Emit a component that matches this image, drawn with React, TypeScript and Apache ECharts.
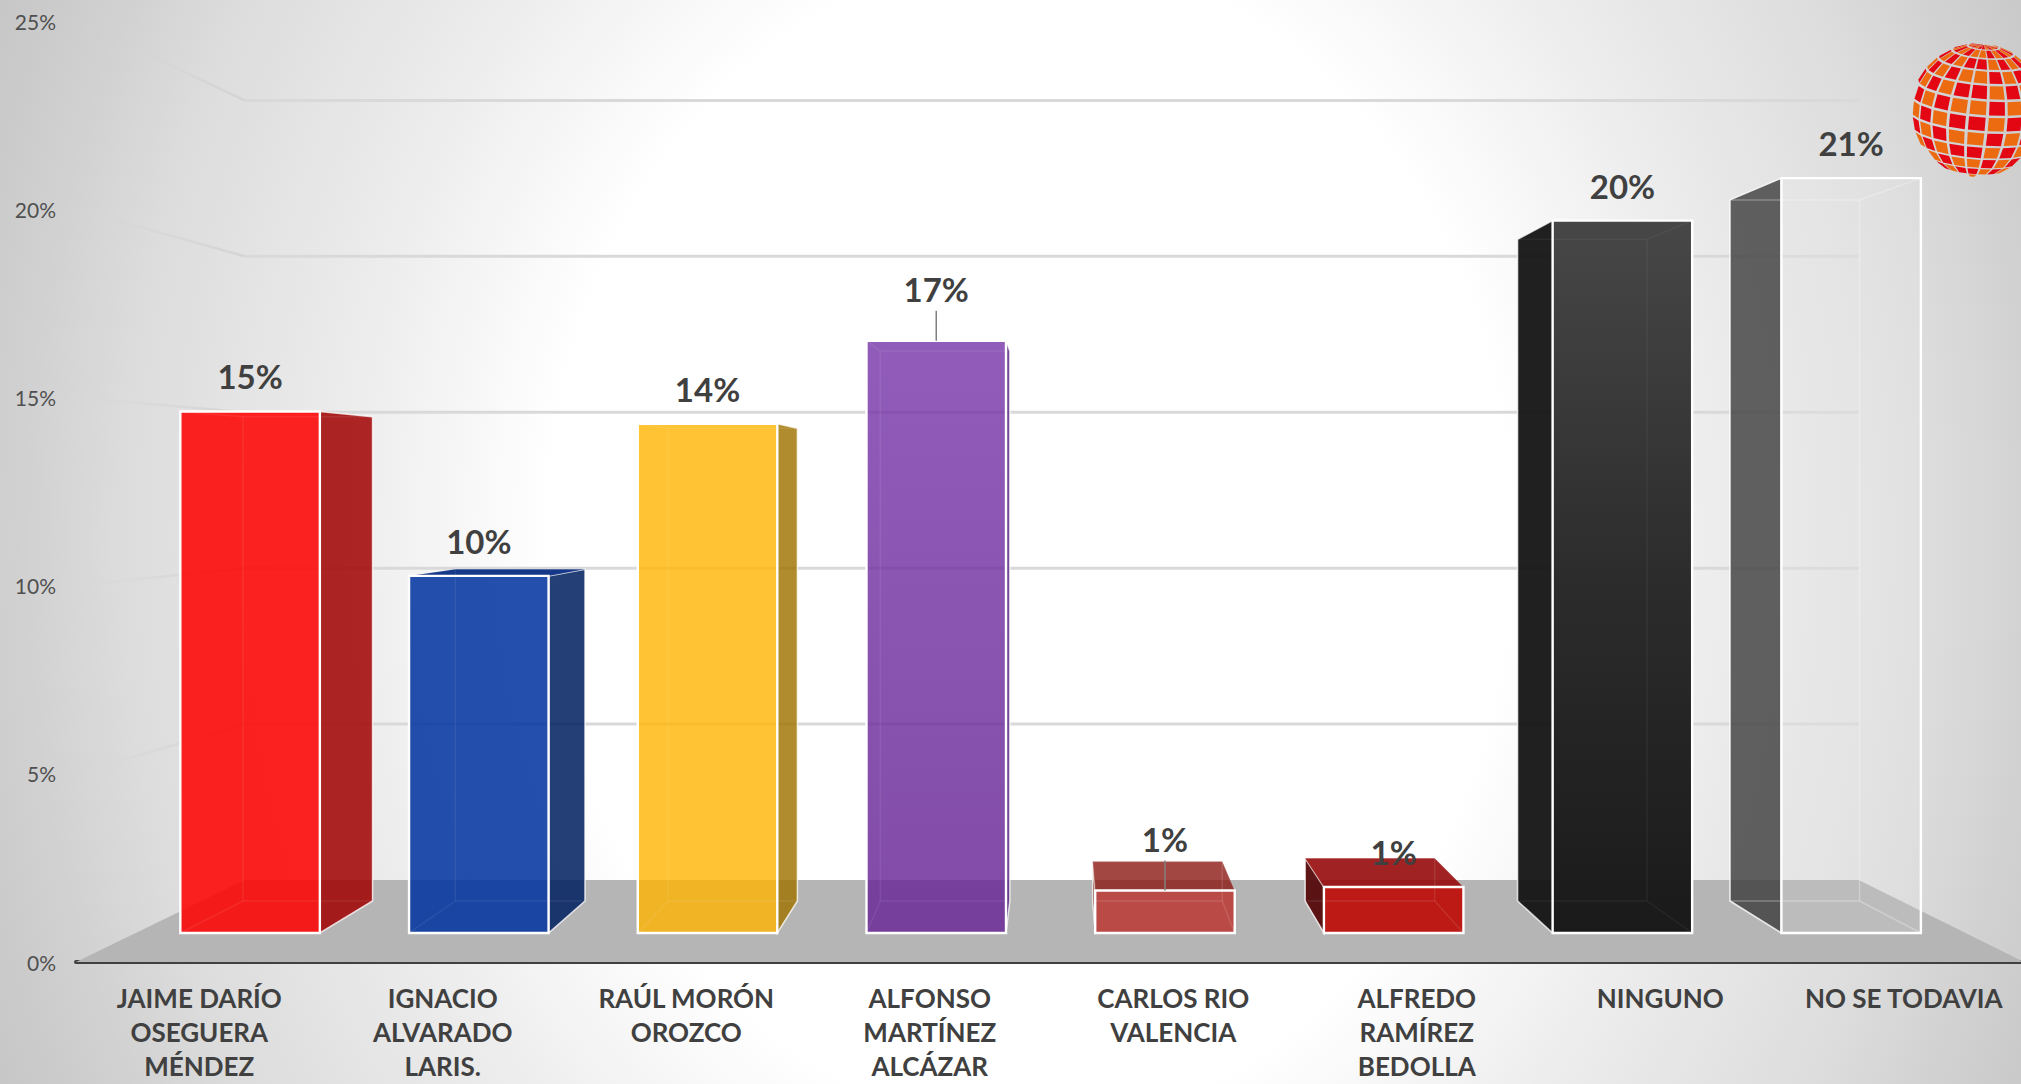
import React, { useEffect, useRef } from "react";
import * as echarts from "echarts";

const categories = [
  "JAIME DARÍO\nOSEGUERA\nMÉNDEZ",
  "IGNACIO\nALVARADO\nLARIS.",
  "RAÚL MORÓN\nOROZCO",
  "ALFONSO\nMARTÍNEZ\nALCÁZAR",
  "CARLOS RIO\nVALENCIA",
  "ALFREDO\nRAMÍREZ\nBEDOLLA",
  "NINGUNO",
  "NO SE TODAVIA",
];
const values = [14.75, 10.1, 14.4, 16.75, 1.2, 1.3, 20.15, 21.35];
const gridTicks = [5, 10, 15, 20, 25];
const leaderBars = [3, 4];

const frontFills: any[] = [
  "rgba(255,0,0,0.86)",
  "rgba(0,50,160,0.86)",
  "rgba(255,180,0,0.8)",
  {
    type: "linear", x: 0, y: 0, x2: 0, y2: 1,
    colorStops: [
      { offset: 0, color: "rgba(118,52,168,0.8)" },
      { offset: 1, color: "rgba(105,40,150,0.84)" },
    ],
  },
  "rgba(187,55,50,0.85)",
  "rgba(190,12,8,0.92)",
  {
    type: "linear", x: 0, y: 0, x2: 0, y2: 1,
    colorStops: [
      { offset: 0, color: "#474747" },
      { offset: 0.5, color: "#2c2c2c" },
      { offset: 1, color: "#1a1a1a" },
    ],
  },
  "rgba(255,255,255,0.1)",
];
const sideFills = [
  "rgba(160,0,0,0.85)",
  "rgba(0,30,95,0.86)",
  "rgba(160,115,0,0.82)",
  "rgba(90,40,130,0.85)",
  "rgba(120,30,25,0.85)",
  "rgba(85,10,10,0.95)",
  "rgba(20,20,20,0.95)",
  "rgba(60,60,60,0.8)",
];
const topFills = [
  "rgba(200,0,0,0.85)",
  "rgba(10,45,130,0.95)",
  "rgba(200,150,0,0.85)",
  "rgba(90,40,130,0.85)",
  "rgba(140,25,20,0.8)",
  "rgba(150,10,10,0.9)",
  "rgba(50,50,50,0.95)",
  "rgba(255,255,255,0.1)",
];
const innerEdgeAlpha = [0.07, 0.07, 0.08, 0.07, 0.12, 0.1, 0.05, 0.28];

const FONT = "Lato, 'Open Sans', sans-serif";
const INK = "#404040";
const WIDTH = 2021;
const HEIGHT = 1084;
const VANISH_X = 1060;
const VANISH_Y = 484;
const DEPTH_FRONT = 0.9393;
const DEPTH_BACK = 0.8724;
const DEPTH_WALL = 0.8285;
const BAR_RATIO = 0.61;
const BG_STRETCH = 1.21;

const project = (p: number[], k: number) => [
  VANISH_X + k * (p[0] - VANISH_X),
  VANISH_Y + k * (p[1] - VANISH_Y),
];

function renderStructure(params: any, api: any) {
  const tick = api.value(1);
  const cs = params.coordSys;
  const y = api.coord([0, tick])[1];
  const left = cs.x;
  const right = cs.x + cs.width;
  if (tick === 0) {
    return {
      type: "polygon",
      shape: {
        points: [[left, y], [right, y], project([right, y], DEPTH_WALL), project([left, y], DEPTH_WALL)],
      },
      style: { fill: "#b5b5b5" },
    };
  }
  const a = project([left, y], DEPTH_WALL);
  const b = project([right, y], DEPTH_WALL);
  return {
    type: "group",
    children: [
      {
        type: "line",
        shape: { x1: left, y1: y, x2: a[0], y2: a[1] },
        style: {
          lineWidth: 2.5,
          stroke: {
            type: "linear", x: 0, y: 0, x2: 1, y2: 0,
            colorStops: [
              { offset: 0, color: "rgba(212,212,212,0)" },
              { offset: 1, color: "rgba(212,212,212,1)" },
            ],
          },
        },
      },
      {
        type: "line",
        shape: { x1: a[0], y1: a[1], x2: b[0], y2: b[1] },
        style: { stroke: "#d9d9d9", lineWidth: 3 },
      },
    ],
  };
}

function renderBar(params: any, api: any) {
  const i = params.dataIndex;
  const v = api.value(1);
  const center = api.coord([i, 0])[0];
  const base = api.coord([i, 0])[1];
  const topY = api.coord([i, v])[1];
  const half = (api.size([1, 0])[0] * BAR_RATIO) / 2;
  const corner = (x: number, y: number, k: number) => project([x, y], k);
  const L = center - half;
  const R = center + half;
  const fbl = corner(L, base, DEPTH_FRONT);
  const fbr = corner(R, base, DEPTH_FRONT);
  const ftl = corner(L, topY, DEPTH_FRONT);
  const ftr = corner(R, topY, DEPTH_FRONT);
  const bbl = corner(L, base, DEPTH_BACK);
  const bbr = corner(R, base, DEPTH_BACK);
  const btl = corner(L, topY, DEPTH_BACK);
  const btr = corner(R, topY, DEPTH_BACK);
  const white = "#ffffff";
  const faint = `rgba(255,255,255,${innerEdgeAlpha[i]})`;
  const children: any[] = [];
  const leftSide = fbl[0] > bbl[0] && center > VANISH_X;
  children.push({
    type: "polygon",
    shape: { points: leftSide ? [ftl, btl, bbl, fbl] : [ftr, btr, bbr, fbr] },
    style: { fill: sideFills[i], stroke: "rgba(255,255,255,0.75)", lineWidth: 1.5 },
  });
  if (ftl[1] > VANISH_Y) {
    children.push({
      type: "polygon",
      shape: { points: [ftl, ftr, btr, btl] },
      style: { fill: topFills[i] },
    });
  }
  children.push({
    type: "polygon",
    shape: { points: [ftl, ftr, fbr, fbl] },
    style: { fill: frontFills[i], stroke: white, lineWidth: 2.4 },
  });
  const edges = [
    [btl, btr], [btr, bbr], [bbr, bbl], [bbl, btl],
    [fbl, bbl], [fbr, bbr], [ftl, btl], [ftr, btr],
  ];
  edges.forEach((e) =>
    children.push({
      type: "line",
      shape: { x1: e[0][0], y1: e[0][1], x2: e[1][0], y2: e[1][1] },
      style: { stroke: faint, lineWidth: 1.5 },
    })
  );
  const hasLeader = leaderBars.includes(i);
  const lx = (ftl[0] + ftr[0]) / 2;
  const ly = ftl[1] - (hasLeader ? 52 : 35);
  if (hasLeader) {
    children.push({
      type: "line",
      shape: { x1: lx, y1: ly + 22, x2: lx, y2: ftl[1] },
      style: { stroke: "#808080", lineWidth: 1.5 },
    });
  }
  children.push({
    type: "text",
    x: lx,
    y: ly,
    style: {
      text: `${Math.round(v)}%`,
      fill: INK,
      font: `bold 33px ${FONT}`,
      textAlign: "center",
      textVerticalAlign: "middle",
    },
  });
  return { type: "group", children };
}

function buildGlobe() {
  const cx = 1978, cy = 110, r = 67;
  const tilt = (12 * Math.PI) / 180;
  const roll = (-5 * Math.PI) / 180;
  const pt = (lat: number, lon: number) => {
    const x0 = Math.cos(lat) * Math.sin(lon);
    const y0 = Math.sin(lat);
    const z0 = Math.cos(lat) * Math.cos(lon);
    const y1 = y0 * Math.cos(tilt) - z0 * Math.sin(tilt);
    const z1 = y0 * Math.sin(tilt) + z0 * Math.cos(tilt);
    const x2 = x0 * Math.cos(roll) - y1 * Math.sin(roll);
    const y2 = x0 * Math.sin(roll) + y1 * Math.cos(roll);
    return { p: [cx + r * x2, cy - r * y2], z: z1 };
  };
  const tiles: any[] = [];
  const rows = 13;
  const cols = 21;
  const dLat = Math.PI / rows;
  const dLon = (2 * Math.PI) / cols;
  const gap = 0.08;
  for (let a = 0; a < rows; a++) {
    for (let b = 0; b < cols; b++) {
      const la0 = -Math.PI / 2 + (a + gap) * dLat;
      const la1 = -Math.PI / 2 + (a + 1 - gap) * dLat;
      const lo0 = (b - 0.5 + gap) * dLon;
      const lo1 = (b + 0.5 - gap) * dLon;
      const c = [pt(la0, lo0), pt(la0, lo1), pt(la1, lo1), pt(la1, lo0)];
      if (c.some((q) => q.z < 0.03)) continue;
      tiles.push({
        type: "polygon",
        shape: { points: c.map((q) => q.p) },
        style: { fill: (a + b) % 2 === 0 ? "#e30613" : "#ec6a10" },
      });
    }
  }
  return tiles;
}

const backdrop = {
  type: "rect",
  silent: true,
  z: -100,
  scaleY: BG_STRETCH,
  shape: { x: 0, y: 0, width: WIDTH, height: HEIGHT / BG_STRETCH },
  style: {
    fill: {
      type: "radial", x: 1030, y: 540 / BG_STRETCH, r: 1152, global: true,
      colorStops: [
        { offset: 0, color: "#ffffff" },
        { offset: 0.417, color: "#ffffff" },
        { offset: 0.6, color: "#ececec" },
        { offset: 0.79, color: "#dcdcdc" },
        { offset: 0.875, color: "#d1d1d1" },
        { offset: 0.96, color: "#c8c8c8" },
        { offset: 1, color: "#c4c4c4" },
      ],
    },
  },
};

export default function App() {
  const ref = useRef<HTMLDivElement>(null);
  useEffect(() => {
    document.body.style.margin = "0";
    const chart = echarts.init(ref.current!, undefined, { renderer: "svg" });
    chart.setOption({
      animation: false,
      grid: { left: 76, right: -3, top: 21, bottom: 122, outerBoundsMode: "none" },
      xAxis: {
        type: "category",
        data: categories,
        axisLine: { lineStyle: { color: "#404040", width: 4 } },
        axisTick: { show: false },
        splitLine: { show: false },
        axisLabel: {
          interval: 0,
          margin: 19,
          color: INK,
          fontFamily: FONT,
          fontWeight: "bold",
          fontSize: 26,
          lineHeight: 34,
          verticalAlign: "top",
          padding: [0, 0, 0, 3],
        },
      },
      yAxis: {
        type: "value",
        min: 0,
        max: 25,
        interval: 5,
        axisLine: { show: false },
        axisTick: { show: false },
        splitLine: { show: false },
        axisLabel: {
          margin: 20,
          color: "#505050",
          fontFamily: FONT,
          fontSize: 21,
          formatter: "{value}%",
        },
      },
      graphic: {
        elements: [
          backdrop,
          { type: "group", silent: true, z: 1, children: buildGlobe() },
        ],
      },
      series: [
        {
          type: "custom",
          renderItem: renderStructure,
          clip: false,
          silent: true,
          encode: { x: 0, y: 1 },
          data: [[0, 0], ...gridTicks.map((t) => [0, t])],
          z: 1,
        },
        {
          type: "custom",
          renderItem: renderBar,
          clip: false,
          encode: { x: 0, y: 1 },
          data: values.map((v, i) => [i, v]),
          z: 3,
        },
      ],
    });
    return () => chart.dispose();
  }, []);
  return <div ref={ref} style={{ width: WIDTH, height: HEIGHT }} />;
}
